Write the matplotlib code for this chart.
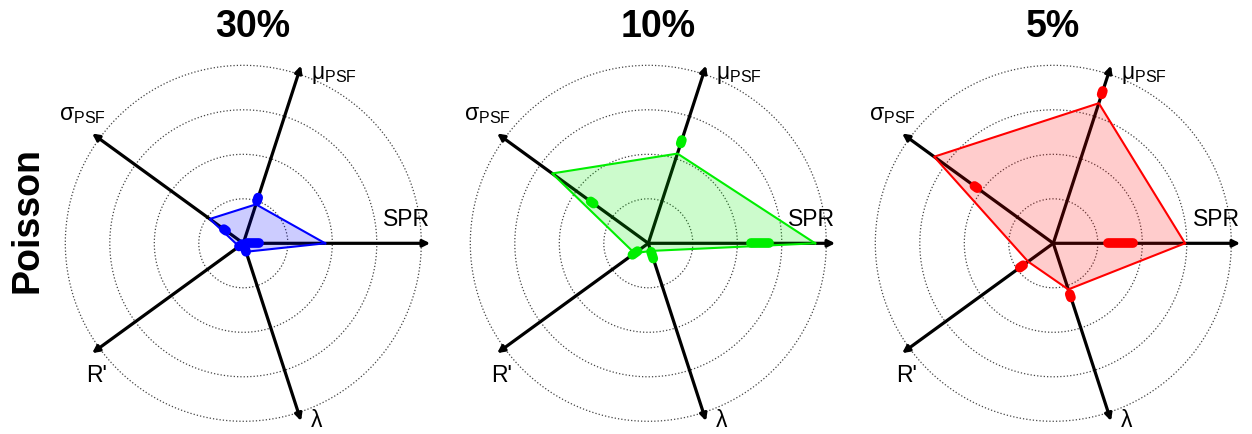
import numpy as np
import matplotlib
matplotlib.use("Agg")
import matplotlib.pyplot as plt

plt.rcParams['font.family'] = ['Liberation Sans', 'DejaVu Sans']
plt.rcParams['mathtext.fontset'] = 'custom'
plt.rcParams['mathtext.rm'] = 'Liberation Sans'
plt.rcParams['mathtext.it'] = 'Liberation Sans:italic'

# radar axes, counter-clockwise from the right
axis_labels = ['SPR', r'μ$_\mathrm{PSF}$', r'σ$_\mathrm{PSF}$', "R'", 'λ']
axis_angles = [0, 72, 144, 216, 288]
titles = ['30%', '10%', '5%']
colors = ['#0000ff', '#00ee00', '#ff0000']

# polygon vertices (one value per axis)
poly_30 = [1.84, 0.92, 0.93, 0.12, 0.20]
poly_10 = [3.75, 2.12, 2.67, 0.38, 0.18]
poly_5 = [2.96, 3.31, 3.31, 0.70, 1.09]

# spread of the repeated estimates along each axis (low, high)
spread_30_lo = [0.08, 1.00, 0.48, 0.03, 0.10]
spread_30_hi = [0.35, 1.08, 0.54, 0.12, 0.20]
spread_10_lo = [2.30, 2.36, 1.52, 0.30, 0.20]
spread_10_hi = [2.72, 2.44, 1.60, 0.44, 0.36]
spread_5_lo = [1.22, 3.52, 2.11, 0.84, 1.20]
spread_5_hi = [1.78, 3.60, 2.19, 0.93, 1.28]

polys = [poly_30, poly_10, poly_5]
spreads = [(spread_30_lo, spread_30_hi), (spread_10_lo, spread_10_hi), (spread_5_lo, spread_5_hi)]

rings = [1, 2, 3, 4]
axis_len = 4.2

W, H = 1252, 434
unit = 44.5          # pixels per ring
centers_px = [243.3, 648.3, 1053.3]
cy_px = 243.3
title_dx = [0.2, 0.22, 0.0]

# label offsets from each arrow tip
lab_off = [(0.0, 0.28), (0.22, -0.2), (0.3, 0.42), (0.1, -0.5), (0.34, 0.02)]
lab_ha = ['right', 'left', 'right', 'center', 'center']
lab_fs = 16.5

fig = plt.figure(figsize=(W / 100, H / 100), dpi=100)

th = np.deg2rad(axis_angles)
ux, uy = np.cos(th), np.sin(th)

for i, cx in enumerate(centers_px):
    ax = fig.add_axes([(cx - 200) / W, 0, 400 / W, 1])
    ax.set_xlim(-200 / unit, 200 / unit)
    ax.set_ylim(-(H - cy_px) / unit, cy_px / unit)
    ax.axis('off')

    t = np.linspace(0, 2 * np.pi, 300)
    for r in rings:
        ax.plot(r * np.cos(t), r * np.sin(t), ls=':', color='#444444', lw=0.9, zorder=1)

    for k in range(5):
        tip = (axis_len * ux[k], axis_len * uy[k])
        ax.annotate('', xy=tip, xytext=(0, 0),
                    arrowprops=dict(arrowstyle='-|>', lw=2.3, color='black',
                                    mutation_scale=10, shrinkA=0, shrinkB=0),
                    zorder=2)
        ax.text(tip[0] + lab_off[k][0], tip[1] + lab_off[k][1], axis_labels[k],
                ha=lab_ha[k], va='bottom' if k == 0 else 'center',
                fontsize=lab_fs, zorder=5)

    vals = np.array(polys[i])
    px = np.append(vals * ux, vals[0] * ux[0])
    py = np.append(vals * uy, vals[0] * uy[0])
    ax.fill(px, py, facecolor=colors[i], alpha=0.2, zorder=3)
    ax.plot(px, py, color=colors[i], lw=1.5, zorder=4)

    lo, hi = spreads[i]
    for k in range(5):
        ax.plot([lo[k] * ux[k], hi[k] * ux[k]], [lo[k] * uy[k], hi[k] * uy[k]],
                color=colors[i], lw=7, solid_capstyle='round', zorder=4)

    ax.text(title_dx[i], (cy_px - 27) / unit, titles[i], ha='center', va='center',
            fontsize=27, fontweight='bold')

fig.text(27 / W, 1 - 220 / H, 'Poisson', rotation=90, ha='center', va='center',
         fontsize=27, fontweight='bold')

fig.savefig('out.png', dpi=100)
